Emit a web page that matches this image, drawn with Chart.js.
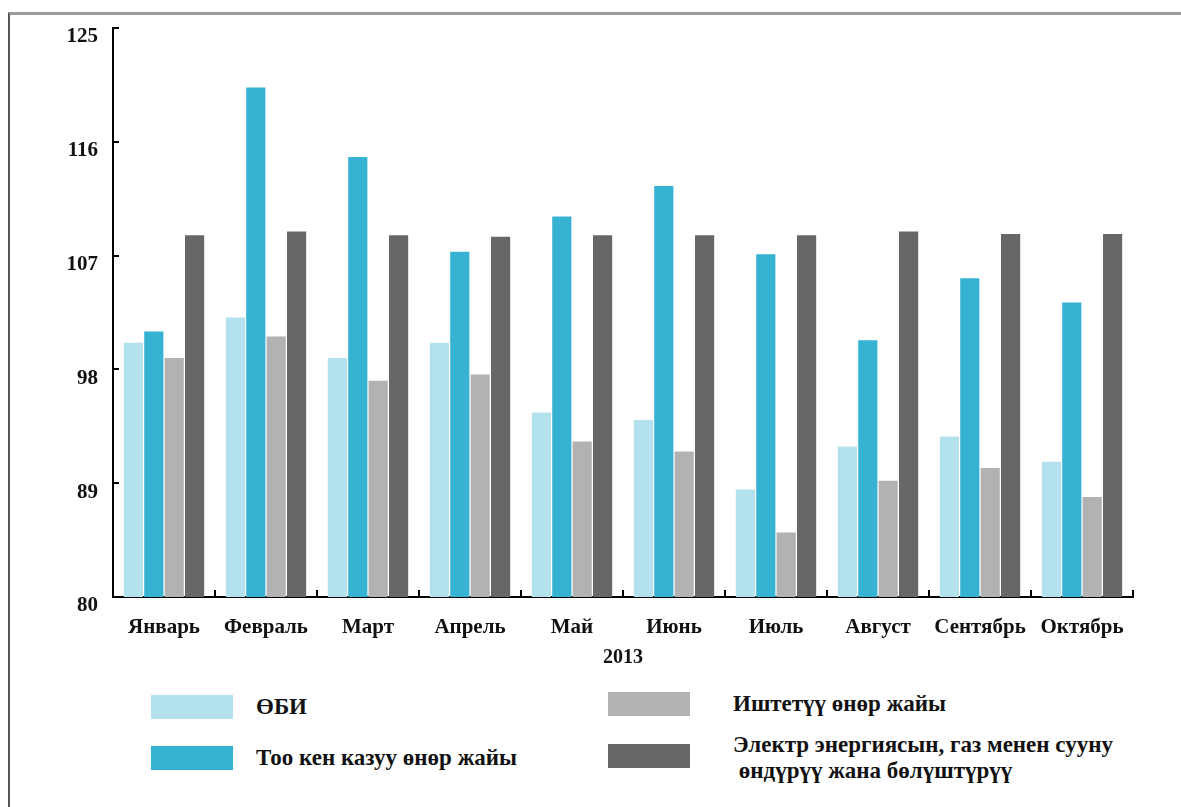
<!DOCTYPE html>
<html>
<head>
<meta charset="utf-8">
<script src="https://cdn.jsdelivr.net/npm/chart.js@4.4.1/dist/chart.umd.min.js"></script>
<style>
  html, body { margin: 0; padding: 0; background: #fff; }
  body { width: 1181px; height: 807px; position: relative; overflow: hidden; font-family: "Liberation Serif", "DejaVu Serif", serif; }
  #frame { position: absolute; left: 8px; top: 12px; right: -5px; bottom: -5px; border-top: 3px solid #9c9c9c; border-left: 2px solid #555; }
  #chartWrap { position: absolute; left: 0; top: 0; }
  .lg-box { position: absolute; width: 82px; height: 24px; }
  .lg-text { position: absolute; font-weight: bold; font-size: 23px; color: #111; line-height: 26px; white-space: pre; }
</style>
</head>
<body>
<div id="frame"></div>
<div id="chartWrap"><canvas id="productionChart" width="1181" height="690"></canvas></div>
<div id="legend"></div>
<script>
const months = ['Январь', 'Февраль', 'Март', 'Апрель', 'Май', 'Июнь', 'Июль', 'Август', 'Сентябрь', 'Октябрь'];
const yearLabel = '2013';

const seriesNames = [
  'ӨБИ',
  'Тоо кен казуу өнөр жайы',
  'Иштетүү өнөр жайы',
  'Электр энергиясын, газ менен сууну\n өндүрүү жана бөлүштүрүү'
];
const seriesColors = ['#b3e2ee', '#36b3d2', '#b2b2b2', '#676767'];

const obi = [100.1, 102.1, 98.9, 100.1, 94.6, 94.0, 88.5, 91.9, 92.7, 90.7];
const mining = [101.0, 120.3, 114.8, 107.3, 110.1, 112.5, 107.1, 100.3, 105.2, 103.3];
const manufacturing = [98.9, 100.6, 97.1, 97.6, 92.3, 91.5, 85.1, 89.2, 90.2, 87.9];
const electricity = [108.6, 108.9, 108.6, 108.5, 108.6, 108.6, 108.6, 108.9, 108.7, 108.7];

const yTicks = [80, 89, 98, 107, 116, 125];

const seriesValues = [obi, mining, manufacturing, electricity];

// small inward tick marks, like the original axes
const inwardTicks = {
  id: 'inwardTicks',
  afterDatasetsDraw(chart) {
    const { ctx, chartArea, scales: { x, y } } = chart;
    ctx.save();
    ctx.strokeStyle = '#000';
    ctx.lineWidth = 2;
    ctx.beginPath();
    yTicks.forEach(v => {
      const py = Math.round(y.getPixelForValue(v));
      ctx.moveTo(chartArea.left, py);
      ctx.lineTo(chartArea.left + 6, py);
    });
    const half = (x.getPixelForValue(1) - x.getPixelForValue(0)) / 2;
    months.forEach((m, i) => {
      const px = Math.round(x.getPixelForValue(i) + half);
      ctx.moveTo(px, chartArea.bottom);
      ctx.lineTo(px, chartArea.bottom - 7);
    });
    ctx.stroke();
    ctx.restore();
  }
};

const ctx = document.getElementById('productionChart').getContext('2d');
new Chart(ctx, {
  type: 'bar',
  data: {
    labels: months,
    datasets: seriesValues.map((vals, i) => ({
      label: seriesNames[i],
      data: vals,
      backgroundColor: seriesColors[i],
      borderWidth: 0,
      categoryPercentage: 0.8,
      barPercentage: 0.94
    }))
  },
  options: {
    responsive: false,
    animation: false,
    devicePixelRatio: 1,
    layout: { padding: { left: 0, top: 28, right: 48, bottom: 0 } },
    plugins: {
      legend: { display: false },
      tooltip: { enabled: false }
    },
    scales: {
      x: {
        grid: { display: false, drawTicks: false },
        border: { color: '#000', width: 2 },
        ticks: {
          color: '#111',
          padding: 18,
          maxRotation: 0,
          autoSkip: false,
          font: { family: 'Liberation Serif', size: 21, weight: 'bold' }
        },
        title: {
          display: true,
          text: yearLabel,
          color: '#111',
          padding: { top: 0, bottom: 20 },
          font: { family: 'Liberation Serif', size: 20, weight: 'bold' }
        },
        afterFit(scale) { scale.height = 93; }
      },
      y: {
        min: 80,
        max: 125,
        grid: { display: false, drawTicks: false },
        border: { color: '#000', width: 2 },
        afterBuildTicks(scale) { scale.ticks = yTicks.map(v => ({ value: v })); },
        ticks: {
          color: '#111',
          padding: 15,
          labelOffset: 9,
          font: { family: 'Liberation Serif', size: 21, weight: 'bold' }
        },
        afterFit(scale) { scale.width = 113; }
      }
    }
  },
  plugins: [inwardTicks]
});

// legend laid out in two columns, as in the original
const legendPos = [
  { box: [151, 695], text: [256, 694] },
  { box: [151, 746], text: [256, 745] },
  { box: [608, 692], text: [733, 691] },
  { box: [608, 744], text: [733, 732] }
];
const legendEl = document.getElementById('legend');
seriesNames.forEach((name, i) => {
  const p = legendPos[i];
  const box = document.createElement('div');
  box.className = 'lg-box';
  box.style.left = p.box[0] + 'px';
  box.style.top = p.box[1] + 'px';
  box.style.background = seriesColors[i];
  legendEl.appendChild(box);
  const txt = document.createElement('div');
  txt.className = 'lg-text';
  txt.style.left = p.text[0] + 'px';
  txt.style.top = p.text[1] + 'px';
  txt.textContent = name;
  legendEl.appendChild(txt);
});
</script>
</body>
</html>
